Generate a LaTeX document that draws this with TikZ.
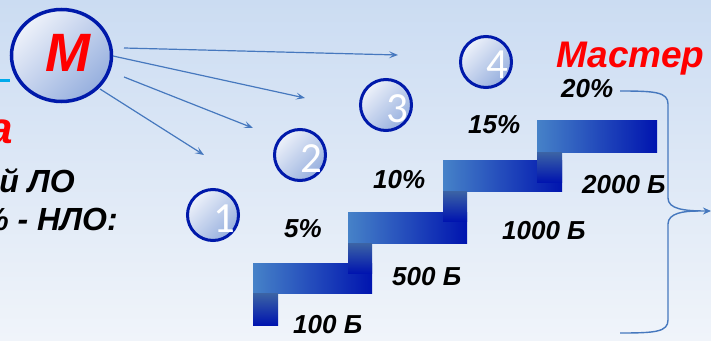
\documentclass[tikz,border=0pt]{standalone}
\usepackage{fontspec}
\setmainfont{Liberation Sans}
\newfontfamily\numfont{Carlito}
\usetikzlibrary{arrows.meta,shapes.geometric}
\definecolor{bgtop}{RGB}{203,220,242}
\definecolor{bgbot}{RGB}{240,244,250}
\definecolor{ringblue}{RGB}{0,25,170}
\definecolor{lineblue}{RGB}{70,120,190}
\definecolor{barlight}{RGB}{70,130,200}
\definecolor{barmid}{RGB}{60,100,165}
\definecolor{bardark}{RGB}{0,20,175}
\definecolor{cyanline}{RGB}{0,170,235}
\definecolor{circlight}{RGB}{238,242,250}
\definecolor{circdark}{RGB}{150,175,222}
\definecolor{redtxt}{RGB}{255,0,0}
\tikzset{
  numcirc/.style={circle, draw=ringblue, line width=3pt, minimum size=51pt, inner sep=0pt,
    top color=circlight, bottom color=circdark, shading angle=45},
  numtxt/.style={font=\numfont\fontsize{43}{43}\selectfont, text=white, inner sep=0pt, anchor=base},
  lbl/.style={font=\fontsize{26}{26}\selectfont\bfseries\itshape, inner sep=0pt, anchor=base west},
  bigred/.style={font=\fontsize{37}{37}\selectfont\bfseries\itshape, text=redtxt, inner sep=0pt},
  sidetxt/.style={font=\fontsize{32}{32}\selectfont\bfseries\itshape, inner sep=0pt, anchor=base east},
  arr/.style={draw=lineblue, line width=1.2pt, -{Stealth[length=9pt,width=7pt,inset=4pt]}},
  bracel/.style={draw=lineblue, line width=1.4pt},
  hbar/.style={left color=barlight, middle color=barmid, right color=bardark},
  vbar/.style={top color=barmid, bottom color=bardark}
}
\begin{document}
\begin{tikzpicture}[x=1pt,y=-1pt]
\useasboundingbox (0,0) rectangle (711,340);
\shade[top color=bgtop, bottom color=bgbot] (0,0) rectangle (711,340);

% M circle
\coordinate (cy0) at (0,80);
\node[ellipse, draw=ringblue, line width=3.5pt, minimum width=100pt, minimum height=92pt, inner sep=0pt,
  top color=circlight, bottom color=circdark, shading angle=45] (M) at (61.5,55.5) {};
\draw[cyanline, line width=3pt] (cy0) -- (M.west |- cy0);
\node[bigred, font=\fontsize{54}{54}\selectfont\bfseries\itshape, anchor=base] (Mt) at (68,71) {М};

% left texts
\node[bigred, font=\fontsize{44}{44}\selectfont\bfseries\itshape, anchor=base east] (ra) at (13,143) {а};
\node[sidetxt] (lo) at (75,192) {й ЛО};
\node[sidetxt] (nlo) at (118,230) {\% - НЛО:};

% arrows from M
\coordinate (a1s) at (124,48); \coordinate (a1e) at (398,55);
\coordinate (a2s) at (113,56); \coordinate (a2e) at (305,98);
\coordinate (a3s) at (124,77); \coordinate (a3e) at (253,128);
\coordinate (a4s) at (100,89); \coordinate (a4e) at (204,155);
\draw[arr] (a1s) -- (a1e);
\draw[arr] (a2s) -- (a2e);
\draw[arr] (a3s) -- (a3e);
\draw[arr] (a4s) -- (a4e);

% numbered circles
\node[numcirc] (c1) at (213,215) {};
\node[numcirc] (c2) at (300,155) {};
\node[numcirc] (c3) at (386,105) {};
\node[numcirc] (c4) at (486,62) {};
\node[numtxt] (n1) at (224,232) {1};
\node[numtxt] (n2) at (311,172) {2};
\node[numtxt] (n3) at (397,122) {3};
\node[numtxt] (n4) at (497,78) {4};

% steps
\shade[hbar] (253,263) rectangle (372,293);
\shade[vbar] (253,293) rectangle (278,325);
\shade[hbar] (348,212) rectangle (467,243);
\shade[vbar] (348,243) rectangle (372,273);
\shade[hbar] (443,160) rectangle (562,191);
\shade[vbar] (443,191) rectangle (467,221);
\shade[hbar] (537,120) rectangle (657,152);
\shade[vbar] (537,152) rectangle (562,182);

% labels
\node[lbl] (l100) at (293,333) {100 Б};
\node[lbl] (l500) at (392,285) {500 Б};
\node[lbl] (p5) at (284,237) {5\%};
\node[lbl] (p10) at (373,188) {10\%};
\node[lbl] (l1000) at (502,239) {1000 Б};
\node[lbl] (p15) at (468,133) {15\%};
\node[lbl] (l2000) at (582,193) {2000 Б};
\node[lbl] (p20) at (561,97) {20\%};
\node[bigred, anchor=base west] (master) at (556,67) {Мастер};

% brace
\coordinate (b1) at (620,91);
\coordinate (b2) at (620,333);
\coordinate (btip) at (711,211);
\coordinate (bmid) at (698,211);
\draw[bracel, -{Stealth[length=8pt,width=7pt]}] (b1) .. controls (655,91) and (668,92) .. (668,104) -- (668,198) .. controls (668,209) and (684,211) .. (btip);
\draw[bracel] (b2) .. controls (655,333) and (668,332) .. (668,320) -- (668,224) .. controls (668,213) and (684,211) .. (bmid);
\end{tikzpicture}
\end{document}
